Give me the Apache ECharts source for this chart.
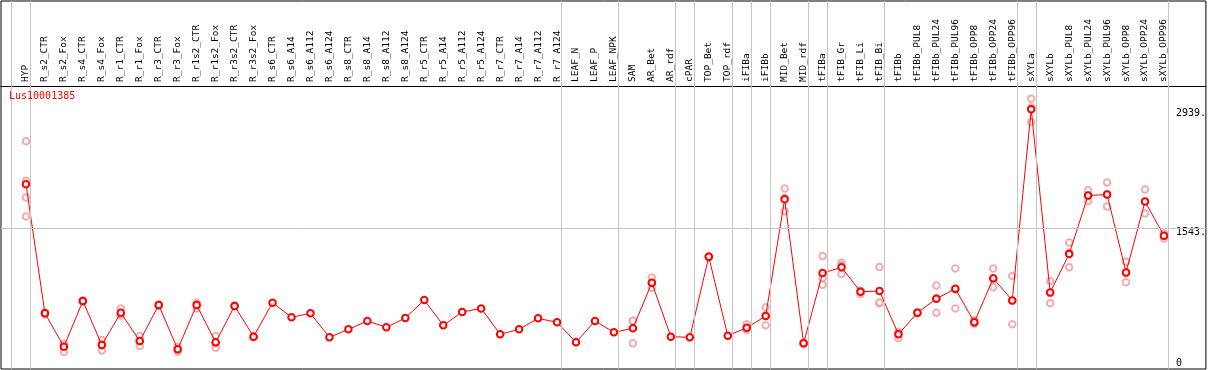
<!DOCTYPE html>
<html lang="en">
<head>
    <meta charset="UTF-8">
    <title>Lus10001385</title>
    <script src="https://cdn.jsdelivr.net/npm/echarts@6/dist/echarts.min.js"></script>
    <style>
        html, body { margin: 0; padding: 0; background: #fff; }
    </style>
</head>
<body>
    <div id="main" style="width: 1209px;height:370px;"></div>
    <script type="text/javascript">
        // sample names (x axis, written on top)
        var categories = [
            'HYP', 'R_s2_CTR', 'R_s2_Fox', 'R_s4_CTR', 'R_s4_Fox', 'R_r1_CTR', 'R_r1_Fox',
            'R_r3_CTR', 'R_r3_Fox', 'R_r1s2_CTR', 'R_r1s2_Fox', 'R_r3s2_CTR', 'R_r3s2_Fox',
            'R_s6_CTR', 'R_s6_A14', 'R_s6_A112', 'R_s6_A124', 'R_s8_CTR', 'R_s8_A14', 'R_s8_A112',
            'R_s8_A124', 'R_r5_CTR', 'R_r5_A14', 'R_r5_A112', 'R_r5_A124', 'R_r7_CTR', 'R_r7_A14',
            'R_r7_A112', 'R_r7_A124', 'LEAF_N', 'LEAF_P', 'LEAF_NPK', 'SAM', 'AR_Bet', 'AR_rdf',
            'cPAR', 'TOP_Bet', 'TOP_rdf', 'iFIBa', 'iFIBb', 'MID_Bet', 'MID_rdf', 'tFIBa',
            'tFIB_Gr', 'tFIB_Li', 'tFIB_Bi', 'tFIBb', 'tFIBb_PUL8', 'tFIBb_PUL24', 'tFIBb_PUL96',
            'tFIBb_OPP8', 'tFIBb_OPP24', 'tFIBb_OPP96', 'sXYLa', 'sXYLb', 'sXYLb_PUL8',
            'sXYLb_PUL24', 'sXYLb_PUL96', 'sXYLb_OPP8', 'sXYLb_OPP24', 'sXYLb_OPP96'
        ];

        // mean expression per sample
        var means = [
            2059, 542, 150, 686, 170, 549, 217, 639, 120, 639, 202, 628, 268,
            667, 495, 542, 260, 354, 452, 378, 487, 698, 401, 557, 600, 296, 354,
            483, 436, 202, 452, 319, 366, 901, 268, 260, 1206, 279, 373, 510, 1883,
            190, 1015, 1082, 795, 804, 296, 549, 713, 831, 436, 953, 694, 2939,
            788, 1238, 1926, 1938, 1023, 1856, 1452
        ];

        // single replicates per sample (empty = only the mean is drawn)
        var replicates = [
            [2563, 2098, 1903, 1680], [555, 530, 541], [172, 92, 186], [692, 680, 686],
            [229, 104, 177], [600, 530, 517], [276, 158, 217], [650, 632, 635],
            [150, 92, 118], [667, 600, 650], [276, 139, 191], [634, 622, 628],
            [276, 260, 268],
            [], [], [], [], [], [], [], [], [], [], [], [], [], [], [], [], [], [], [],
            [452, 190, 456], [960, 842, 901], [], [], [1215, 1198, 1205], [],
            [413, 346, 360], [612, 401, 517], [2008, 1742, 1899], [198, 182, 190],
            [1214, 953, 878], [1136, 1003, 1107], [810, 770, 805], [1085, 659, 668],
            [249, 326, 313], [555, 540, 552], [870, 549, 720], [1070, 600, 823],
            [460, 420, 428], [1070, 847, 942], [980, 413, 689], [3064, 2790, 2963],
            [921, 659, 784], [1375, 1082, 1257], [1989, 1863, 1926], [2079, 1797, 1938],
            [1147, 906, 1016], [1997, 1715, 1856], [1481, 1422, 1453]
        ];

        // group separators: drawn just after these sample indices
        var groupEnds = [-1, 0, 28, 31, 34, 35, 37, 38, 39, 41, 42, 45, 52, 53, 60];

        // y axis labels
        var yTickValues = [0, 1543, 2939];
        var yTickLabels = ['0', '1543.', '2939.'];
        var geneName = 'Lus10001385';

        var meanData = [];
        var repData = [];
        for (var i = 0; i < categories.length; i++) {
            meanData.push([i, means[i]]);
            for (var j = 0; j < replicates[i].length; j++) {
                repData.push([i, replicates[i][j]]);
            }
        }

        var sepLines = groupEnds.map(function (k) { return { xAxis: k + 0.24 }; });
        sepLines.push({ yAxis: yTickValues[1] });

        var mono = 'DejaVu Sans Mono';
        var myChart = echarts.init(document.getElementById('main'));

        var option = {
            animation: false,
            title: {
                text: geneName,
                left: 9,
                top: 91,
                padding: 0,
                textStyle: { color: '#ff0000', fontSize: 10, fontWeight: 'normal', fontFamily: mono }
            },
            grid: {
                left: 1, right: 1, top: 1, bottom: 1,
                show: true,
                borderColor: '#000',
                borderWidth: 1
            },
            xAxis: {
                type: 'value',
                position: 'top',
                offset: -85,
                min: -1.316,
                max: 62.21,
                axisLine: { show: true, onZero: false, lineStyle: { color: '#000', width: 1 } },
                axisTick: { show: false },
                splitLine: { show: false },
                axisLabel: {
                    customValues: categories.map(function (c, idx) { return idx; }),
                    formatter: function (v) { return categories[Math.round(v)] || ''; },
                    rotate: -90,
                    margin: 4,
                    color: '#000',
                    fontSize: 9.5,
                    fontFamily: mono
                }
            },
            yAxis: {
                type: 'value',
                position: 'right',
                min: -112,
                max: 4211,
                axisLine: { show: false },
                axisTick: { show: false },
                splitLine: { show: false },
                axisLabel: {
                    customValues: yTickValues,
                    formatter: function (v) { return yTickLabels[yTickValues.indexOf(v)]; },
                    inside: true,
                    align: 'left',
                    verticalAlign: 'top',
                    margin: 30,
                    padding: [-1, 0, 0, 0],
                    color: '#000',
                    fontSize: 10,
                    fontFamily: mono
                }
            },
            series: [
                {
                    type: 'scatter',
                    data: repData,
                    symbol: 'emptyCircle',
                    symbolSize: 6.5,
                    itemStyle: { color: '#ee9a9a', borderWidth: 1 },
                    z: 2,
                    markLine: {
                        silent: true,
                        symbol: 'none',
                        label: { show: false },
                        lineStyle: { color: '#c4c4c4', type: 'solid', width: 1 },
                        data: sepLines
                    }
                },
                {
                    type: 'line',
                    data: meanData,
                    symbol: 'emptyCircle',
                    symbolSize: 6.5,
                    lineStyle: { color: '#ff0000', width: 1 },
                    itemStyle: { color: '#ff0000', borderWidth: 1.5 },
                    z: 3
                }
            ]
        };

        myChart.setOption(option);
    </script>
</body>
</html>
